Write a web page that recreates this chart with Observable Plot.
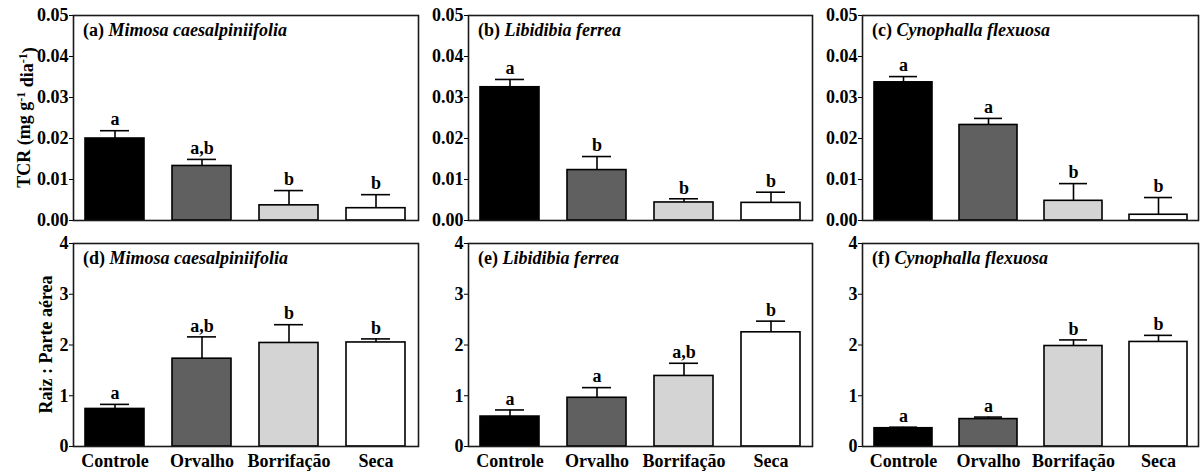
<!DOCTYPE html>
<html>
<head>
<meta charset="utf-8">
<script src="https://cdn.jsdelivr.net/npm/d3@7"></script>
<script src="https://cdn.jsdelivr.net/npm/@observablehq/plot@0.6"></script>
<style>
  body { margin: 0; background: #fff; }
  #fig { position: relative; width: 1203px; height: 474px; overflow: hidden; background: #fff; }
  #fig svg { position: absolute; overflow: visible; }
</style>
</head>
<body>
<div id="fig"></div>
<script>
// Treatments and their bar fills
const categories = ["Controle", "Orvalho", "Borrifação", "Seca"];
const fills = ["#000000", "#606060", "#d4d4d4", "#ffffff"];

// Species shown in each column
const species = ["Mimosa caesalpiniifolia", "Libidibia ferrea", "Cynophalla flexuosa"];
const panelTags = ["(a)", "(b)", "(c)", "(d)", "(e)", "(f)"];

// TCR (mg g-1 dia-1): means and standard errors
const tcrMimosa = [0.0200, 0.0133, 0.0037, 0.0030];
const tcrMimosaErr = [0.0019, 0.0016, 0.0036, 0.0033];
const tcrMimosaLetters = ["a", "a,b", "b", "b"];

const tcrLibidibia = [0.0325, 0.0123, 0.0044, 0.0043];
const tcrLibidibiaErr = [0.0019, 0.0033, 0.0009, 0.0026];
const tcrLibidibiaLetters = ["a", "b", "b", "b"];

const tcrCynophalla = [0.0337, 0.0233, 0.0048, 0.0014];
const tcrCynophallaErr = [0.0014, 0.0016, 0.0042, 0.0042];
const tcrCynophallaLetters = ["a", "a", "b", "b"];

// Raiz : Parte aérea ratio: means and standard errors
const rpaMimosa = [0.74, 1.73, 2.04, 2.05];
const rpaMimosaErr = [0.09, 0.43, 0.36, 0.07];
const rpaMimosaLetters = ["a", "a,b", "b", "b"];

const rpaLibidibia = [0.59, 0.96, 1.39, 2.25];
const rpaLibidibiaErr = [0.13, 0.20, 0.25, 0.22];
const rpaLibidibiaLetters = ["a", "a", "a,b", "b"];

const rpaCynophalla = [0.36, 0.54, 1.98, 2.06];
const rpaCynophallaErr = [0.02, 0.04, 0.12, 0.13];
const rpaCynophallaLetters = ["a", "a", "b", "b"];

// Axis ticks
const tcrTicks = [0, 0.01, 0.02, 0.03, 0.04, 0.05];
const rpaTicks = [0, 1, 2, 3, 4];

const series = [
  [tcrMimosa, tcrMimosaErr, tcrMimosaLetters],
  [tcrLibidibia, tcrLibidibiaErr, tcrLibidibiaLetters],
  [tcrCynophalla, tcrCynophallaErr, tcrCynophallaLetters],
  [rpaMimosa, rpaMimosaErr, rpaMimosaLetters],
  [rpaLibidibia, rpaLibidibiaErr, rpaLibidibiaLetters],
  [rpaCynophalla, rpaCynophallaErr, rpaCynophallaLetters]
];

// Grid geometry
const cols = [
  {left: 0, width: 420, ml: 73, mr: 2},
  {left: 420, width: 394, ml: 48, mr: 2},
  {left: 814, width: 389, ml: 48, mr: 5}
];
const rows = [
  {top: 0, height: 228, mt: 15, mb: 8, domain: [0, 0.05], ticks: tcrTicks, fmt: d3.format(".2f")},
  {top: 228, height: 246, mt: 15, mb: 28, domain: [0, 4], ticks: rpaTicks, fmt: d3.format("d")}
];

const serif = "Liberation Serif";
const fig = document.getElementById("fig");

series.forEach(([values, errs, letters], k) => {
  const r = Math.floor(k / 3), c = k % 3;
  const row = rows[r], col = cols[c];
  const data = categories.map((cat, i) => ({
    cat, value: values[i], hi: values[i] + errs[i], letter: letters[i]
  }));

  const marks = [
    Plot.axisY({ticks: row.ticks, tickFormat: row.fmt, tickSize: 4, tickPadding: 1,
                fontFamily: serif, fontSize: 18, fontWeight: "bold", label: null, stroke: "#000", fill: "#000"}),
    Plot.ruleX(data, {x: "cat", y1: "value", y2: "hi", stroke: "#000", strokeWidth: 1.6}),
    Plot.ruleY(data, {x1: "cat", x2: "cat", y: "hi", insetLeft: 15, insetRight: 15, stroke: "#000", strokeWidth: 1.6}),
    Plot.barY(data, {x: "cat", y: "value", fill: "cat", stroke: "#000", strokeWidth: 1.6}),
    Plot.text(data, {x: "cat", y: "hi", text: "letter", dy: -11, fontFamily: serif, fontSize: 18, fontWeight: "bold", fill: "#000"}),
    Plot.frame({stroke: "#1a1a1a", strokeWidth: 1.6})
  ];
  if (r === 1) {
    marks.unshift(Plot.axisX({tickSize: 0, tickPadding: 8, fontFamily: serif, fontSize: 18, fontWeight: "bold", label: null, fill: "#000"}));
  }

  const svg = Plot.plot({
    width: col.width,
    height: row.height,
    marginLeft: col.ml,
    marginRight: col.mr,
    marginTop: row.mt,
    marginBottom: row.mb,
    style: {"font-family": serif, "font-weight": "bold", "font-size": "18px", "color": "#000", "background": "transparent"},
    x: {domain: categories, paddingInner: 0.32, paddingOuter: 0.13, axis: r === 1 ? undefined : null},
    y: {domain: row.domain},
    color: {type: "ordinal", domain: categories, range: fills},
    marks
  });
  svg.style.left = col.left + "px";
  svg.style.top = row.top + "px";
  fig.appendChild(svg);

  const s = d3.select(svg);
  // Panel title: tag upright, species in italics
  const t = s.append("text")
    .attr("x", col.ml + 10)
    .attr("y", row.mt + 21)
    .attr("text-anchor", "start")
    .attr("font-family", serif)
    .attr("font-weight", "bold")
    .attr("font-size", 18)
    .attr("fill", "#000");
  t.append("tspan").text(panelTags[k] + " ");
  t.append("tspan").attr("font-style", "italic").text(species[c]);

  // Y-axis titles on the first column
  if (c === 0) {
    const cy = row.mt + (row.height - row.mt - row.mb) / 2;
    const yt = s.append("text")
      .attr("transform", `translate(${r === 0 ? 30 : 52},${cy}) rotate(-90)`)
      .attr("text-anchor", "middle")
      .attr("font-family", serif)
      .attr("font-weight", "bold")
      .attr("font-size", 18)
      .attr("fill", "#000");
    if (r === 0) {
      yt.append("tspan").text("TCR (mg g");
      yt.append("tspan").attr("dy", "-0.45em").attr("font-size", 12).text("-1");
      yt.append("tspan").attr("dy", "0.45em").text(" dia");
      yt.append("tspan").attr("dy", "-0.45em").attr("font-size", 12).text("-1");
      yt.append("tspan").attr("dy", "0.45em").text(")");
    } else {
      yt.text("Raiz : Parte aérea");
    }
  }
});
</script>
</body>
</html>
